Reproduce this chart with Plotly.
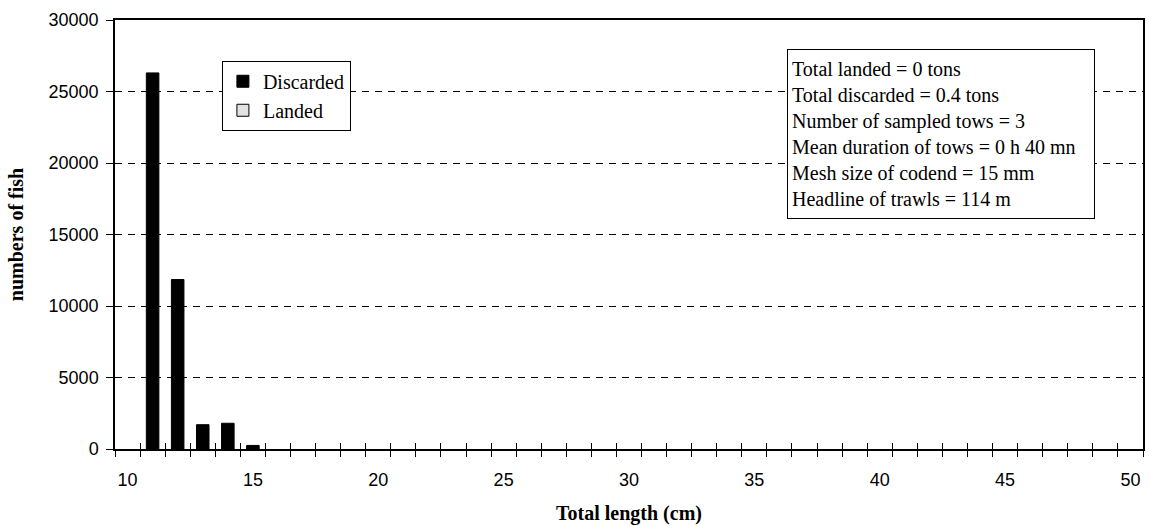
import plotly.graph_objects as go

# Length classes (cm) and numbers of fish per class
lengths = list(range(10, 51))
discarded_counts = {11: 26300, 12: 11850, 13: 1700, 14: 1800, 15: 250}
discarded = [discarded_counts.get(l, 0) for l in lengths]
landed = [0 for _ in lengths]

x_tick_labels = [10, 15, 20, 25, 30, 35, 40, 45, 50]
y_ticks = [0, 5000, 10000, 15000, 20000, 25000, 30000]

info_lines = [
    "Total landed = 0 tons",
    "Total discarded = 0.4 tons",
    "Number of sampled tows = 3",
    "Mean duration of tows = 0 h 40 mn",
    "Mesh size of codend = 15 mm",
    "Headline of trawls = 114 m",
]

SERIF = "Liberation Serif, Times New Roman, serif"
SANS = "Liberation Sans, Arial, sans-serif"


def nonzero(values):
    # empty classes are left blank instead of drawing a flat bar outline
    return [v if v else None for v in values]


fig = go.Figure()
fig.add_trace(go.Bar(
    x=lengths, y=nonzero(discarded), name="Discarded", width=0.5,
    marker=dict(color="black", line=dict(color="black", width=1)),
))
fig.add_trace(go.Bar(
    x=lengths, y=nonzero(landed), name="Landed", width=0.5,
    marker=dict(color="#e3e3e3", line=dict(color="black", width=1)),
))
# carrier trace for the overlaid axis that draws the inner half of the ticks
fig.add_trace(go.Scatter(x=[None], y=[None], xaxis="x2", showlegend=False,
                         hoverinfo="skip"))

xrange = [lengths[0] - 0.5, lengths[-1] + 0.5]

fig.update_layout(
    width=1150, height=526,
    margin=dict(l=115, r=5, t=20, b=77),
    paper_bgcolor="white", plot_bgcolor="white",
    barmode="overlay",
    showlegend=True,
    legend=dict(
        x=0.104, y=0.905, xanchor="left", yanchor="top",
        bgcolor="white", bordercolor="black", borderwidth=1,
        font=dict(family=SERIF, size=20, color="black"),
        itemwidth=30,
    ),
    xaxis=dict(
        range=xrange, tickmode="array", tickvals=x_tick_labels,
        ticks="outside", ticklen=6, tickcolor="rgba(0,0,0,0)",
        minor=dict(tickmode="linear", tick0=xrange[0], dtick=1,
                   ticks="outside", ticklen=6, tickcolor="black", tickwidth=1),
        showline=True, linecolor="black", linewidth=1.5, mirror=True,
        showgrid=False, zeroline=False,
        tickfont=dict(family=SANS, size=18, color="black"),
        ticklabelstandoff=8,
        title=dict(text="<b>Total length (cm)</b>", standoff=17,
                   font=dict(family=SERIF, size=20, color="black")),
    ),
    xaxis2=dict(
        range=xrange, overlaying="x", side="bottom",
        tickmode="linear", tick0=xrange[0], dtick=1,
        ticks="inside", ticklen=6, tickcolor="black", tickwidth=1,
        showticklabels=False, showline=False, showgrid=False, zeroline=False,
    ),
    yaxis=dict(
        range=[0, 30000], tickmode="array", tickvals=y_ticks,
        tickformat="d",
        ticks="outside", ticklen=7, tickcolor="black",
        showline=True, linecolor="black", linewidth=1.5, mirror=True,
        showgrid=True, gridcolor="black", gridwidth=1, griddash="7px,6px",
        zeroline=False,
        tickfont=dict(family=SANS, size=18, color="black"),
        ticklabelstandoff=4,
        title=dict(text="<b>numbers of fish</b>", standoff=20,
                   font=dict(family=SERIF, size=20, color="black")),
    ),
    annotations=[dict(
        text="<br>".join(info_lines),
        xref="paper", yref="paper", x=0.654, y=0.932,
        xanchor="left", yanchor="top", align="left", showarrow=False,
        width=298, height=160, valign="middle",
        font=dict(family=SERIF, size=20, color="black"),
        bgcolor="white", bordercolor="black", borderwidth=1, borderpad=4,
    )],
)

fig.write_html("out.html")
